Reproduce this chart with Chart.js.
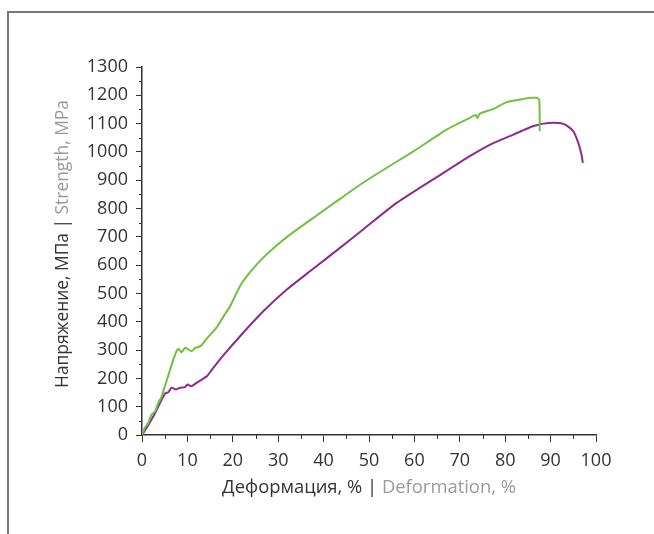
<!DOCTYPE html>
<html>
<head>
<meta charset="utf-8">
<script src="https://cdn.jsdelivr.net/npm/chart.js@4"></script>
<style>
  html, body { margin: 0; padding: 0; background: #fff; }
  #wrap { position: relative; width: 654px; height: 534px; overflow: hidden; }
  #frame { position: absolute; left: 7px; top: 11px; width: 700px; height: 600px;
           border-left: 2px solid #777; border-top: 2px solid #777; box-sizing: border-box; }
  canvas { position: absolute; left: 0; top: 0; }
</style>
</head>
<body>
<div id="wrap">
  <div id="frame"></div>
  <canvas id="c" width="654" height="534"></canvas>
</div>
<script>
// ---- data ----
const greenStrain = [0, 0.6, 1.4, 2.1, 2.9, 3.6, 4.2, 4.7, 5.4, 6.2, 6.8, 7.3, 7.6, 8.0, 8.2, 8.7, 9.5, 10.2, 10.9, 11.7, 12.3, 13.1, 14.5, 16.4, 18.0, 19.4, 21.6, 23.1, 26.0, 29.0, 32.6, 38.5, 43.6, 48.7, 54.0, 59.8, 67.1, 72.2, 73.5, 73.9, 74.4, 77.4, 80.3, 83.3, 85.5, 86.9, 87.5, 87.6];
const greenStress = [0, 25, 43, 72, 84, 114, 131, 155, 190, 231, 262, 284, 296, 304, 302, 292, 308, 302, 296, 308, 310, 317, 345, 379, 420, 455, 526, 561, 615, 661, 708, 776, 834, 891, 945, 1002, 1079, 1120, 1130, 1120, 1135, 1152, 1176, 1185, 1191, 1191, 1185, 1073];

const purpleStrain = [0, 1.0, 2.5, 4.0, 5.1, 5.8, 6.5, 7.5, 8.4, 9.5, 10.0, 10.9, 12.0, 14.3, 15.4, 18.0, 21.6, 26.7, 31.9, 37.7, 43.6, 48.7, 56.1, 66.4, 72.2, 76.7, 81.8, 85.5, 86.9, 88.5, 90.6, 92.3, 93.5, 95.0, 96.1, 96.8, 97.1];
const purpleStress = [0, 25, 66, 114, 147, 151, 167, 161, 167, 169, 178, 172, 184, 208, 231, 283, 349, 437, 514, 587, 661, 726, 820, 926, 985, 1026, 1061, 1087, 1094, 1100, 1103, 1101, 1094, 1073, 1032, 991, 961];

const xTickValues = [0, 10, 20, 30, 40, 50, 60, 70, 80, 90, 100];
const yTickValues = [0, 100, 200, 300, 400, 500, 600, 700, 800, 900, 1000, 1100, 1200, 1300];

const xTitleRu = 'Деформация, % |';
const xTitleEn = ' Deformation, %';
const yTitleRu = 'Напряжение, МПа |';
const yTitleEn = ' Strength, MPa';

const GREEN = '#72c043';
const PURPLE = '#8e2b8f';
const DARK = '#333333';
const GREY = '#9a9a9a';
const FONT = '"Open Sans", "DejaVu Sans", sans-serif';

function pts(xs, ys) { return xs.map((x, i) => ({ x: x, y: ys[i] })); }

const decor = {
  id: 'decor',
  afterDraw(chart) {
    const ctx = chart.ctx;
    const xs = chart.scales.x, ys = chart.scales.y;
    const area = chart.chartArea;
    ctx.save();
    // minor ticks
    ctx.strokeStyle = DARK;
    ctx.lineWidth = 1;
    ctx.beginPath();
    for (let i = 0; i < xTickValues.length - 1; i++) {
      const v = (xTickValues[i] + xTickValues[i + 1]) / 2;
      const px = Math.round(xs.getPixelForValue(v)) + 0.5;
      ctx.moveTo(px, area.bottom);
      ctx.lineTo(px, area.bottom + 4);
    }
    for (let i = 0; i < yTickValues.length - 1; i++) {
      const v = (yTickValues[i] + yTickValues[i + 1]) / 2;
      const py = Math.round(ys.getPixelForValue(v)) + 0.5;
      ctx.moveTo(area.left, py);
      ctx.lineTo(area.left - 3, py);
    }
    ctx.stroke();

    // axis titles (two colours)
    ctx.textBaseline = 'alphabetic';
    ctx.textAlign = 'left';
    ctx.font = '18.4px ' + FONT;
    const cx = (area.left + area.right) / 2;
    const w1 = ctx.measureText(xTitleRu).width;
    const w2 = ctx.measureText(xTitleEn).width;
    let sx = cx - (w1 + w2) / 2;
    const by = 493;
    ctx.fillStyle = DARK; ctx.fillText(xTitleRu, sx, by);
    ctx.fillStyle = GREY; ctx.fillText(xTitleEn, sx + w1, by);

    ctx.font = '17.4px ' + FONT;
    const cy = 244;
    const v1 = ctx.measureText(yTitleRu).width;
    const v2 = ctx.measureText(yTitleEn).width;
    ctx.translate(68, cy);
    ctx.rotate(-Math.PI / 2);
    let sy = -(v1 + v2) / 2;
    ctx.fillStyle = DARK; ctx.fillText(yTitleRu, sy, 0);
    ctx.fillStyle = GREY; ctx.fillText(yTitleEn, sy + v1, 0);
    ctx.restore();
  }
};

new Chart(document.getElementById('c'), {
  type: 'scatter',
  data: {
    datasets: [
      { label: 'green', data: pts(greenStrain, greenStress), showLine: true, borderColor: GREEN,
        borderWidth: 2, pointRadius: 0, tension: 0.2, fill: false },
      { label: 'purple', data: pts(purpleStrain, purpleStress), showLine: true, borderColor: PURPLE,
        borderWidth: 2, pointRadius: 0, tension: 0.2, fill: false }
    ]
  },
  options: {
    responsive: false,
    animation: false,
    events: [],
    layout: { padding: { top: 67, right: 58, bottom: 0, left: 0 } },
    plugins: { legend: { display: false }, tooltip: { enabled: false } },
    scales: {
      x: {
        type: 'linear', min: 0, max: 100,
        afterFit(s) { s.height = 99; },
        afterBuildTicks(s) { s.ticks = xTickValues.map(v => ({ value: v })); },
        border: { display: true, color: DARK, width: 1.5 },
        grid: { display: true, drawOnChartArea: false, drawTicks: true, tickLength: 7, tickColor: DARK, tickWidth: 1 },
        ticks: { color: DARK, font: { family: FONT, size: 18 }, padding: 8, maxRotation: 0,
                 callback: v => String(v) }
      },
      y: {
        type: 'linear', min: 0, max: 1300,
        afterFit(s) { s.width = 142; },
        afterBuildTicks(s) { s.ticks = yTickValues.map(v => ({ value: v })); },
        border: { display: true, color: DARK, width: 1.5 },
        grid: { display: true, drawOnChartArea: false, drawTicks: true, tickLength: 6, tickColor: DARK, tickWidth: 1 },
        ticks: { color: DARK, font: { family: FONT, size: 18 }, padding: 8,
                 callback: v => String(v) }
      }
    }
  },
  plugins: [decor]
});
</script>
</body>
</html>
